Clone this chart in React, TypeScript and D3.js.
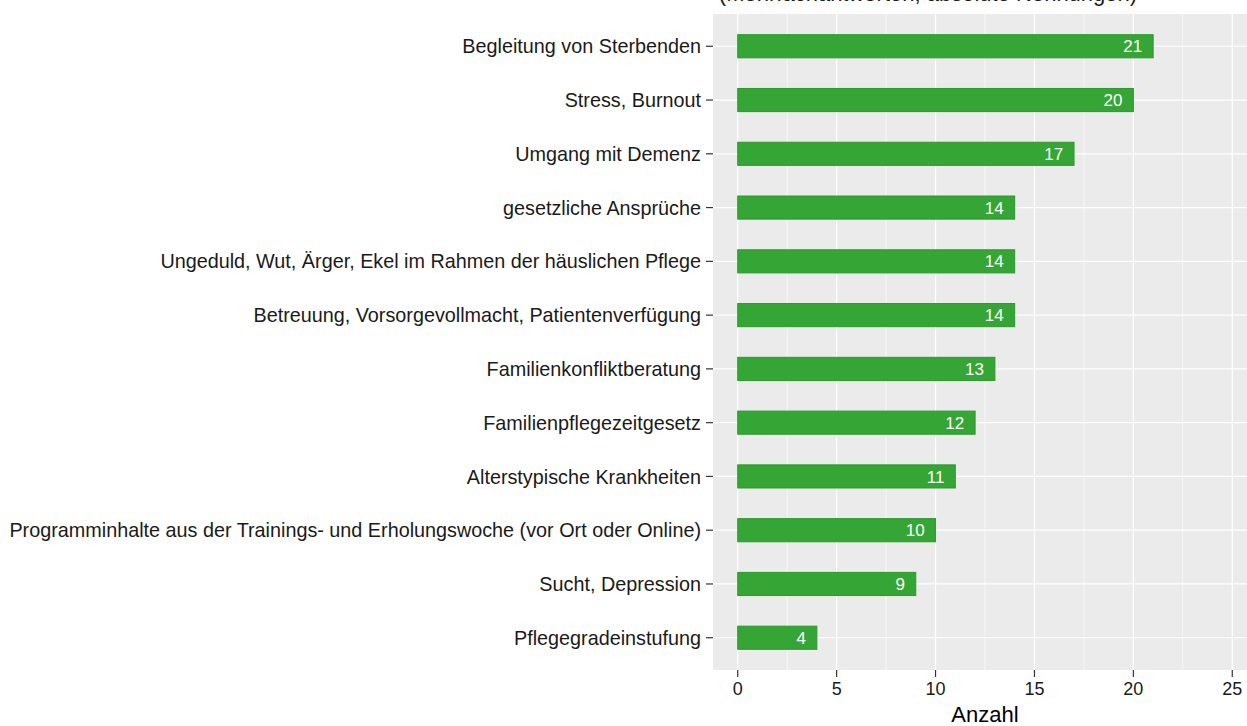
import React, { useEffect, useRef } from "react"
import * as d3 from "d3"

// Themen und Anzahl der Nennungen (von oben nach unten)
const categories = [
  "Begleitung von Sterbenden",
  "Stress, Burnout",
  "Umgang mit Demenz",
  "gesetzliche Ansprüche",
  "Ungeduld, Wut, Ärger, Ekel im Rahmen der häuslichen Pflege",
  "Betreuung, Vorsorgevollmacht, Patientenverfügung",
  "Familienkonfliktberatung",
  "Familienpflegezeitgesetz",
  "Alterstypische Krankheiten",
  "Programminhalte aus der Trainings- und Erholungswoche (vor Ort oder Online)",
  "Sucht, Depression",
  "Pflegegradeinstufung",
]
const counts = [21, 20, 17, 14, 14, 14, 13, 12, 11, 10, 9, 4]
const xTicks = [0, 5, 10, 15, 20, 25]
const title = "(Mehrfachantworten, absolute Nennungen)"

const W = 1247
const H = 726
const FONT = "'Liberation Sans', Arial, sans-serif"

const App: React.FC = () => {
  const svgRef = useRef<SVGSVGElement>(null)

  useEffect(() => {
    if (!svgRef.current) return
    const svg = d3.select(svgRef.current)
    svg.selectAll("*").remove()

    const panel = { left: 713, right: 1257, top: 14, bottom: 670 }

    const x = d3.scaleLinear().domain([-1.25, 26.25]).range([panel.left, panel.right])
    const y = d3.scalePoint<string>().domain(categories).range([panel.top, panel.bottom]).padding(0.6)
    const barH = y.step() * 0.43

    // Titel (oben abgeschnitten)
    svg
      .append("text")
      .attr("x", 928)
      .attr("y", 1)
      .attr("text-anchor", "middle")
      .attr("font-family", FONT)
      .attr("font-size", 22)
      .attr("fill", "#1a1a1a")
      .text(title)

    svg
      .append("rect")
      .attr("x", panel.left)
      .attr("y", panel.top)
      .attr("width", panel.right - panel.left)
      .attr("height", panel.bottom - panel.top)
      .attr("fill", "#ebebeb")

    const g = svg.append("g")

    // minor grid
    const minor = d3.range(2.5, 26, 5)
    g.selectAll("line.minor")
      .data(minor)
      .join("line")
      .attr("x1", (d) => x(d))
      .attr("x2", (d) => x(d))
      .attr("y1", panel.top)
      .attr("y2", panel.bottom)
      .attr("stroke", "#ffffff")
      .attr("stroke-width", 0.6)

    // major grid
    g.selectAll("line.major")
      .data(xTicks)
      .join("line")
      .attr("x1", (d) => x(d))
      .attr("x2", (d) => x(d))
      .attr("y1", panel.top)
      .attr("y2", panel.bottom)
      .attr("stroke", "#ffffff")
      .attr("stroke-width", 1.2)

    g.selectAll("line.hgrid")
      .data(categories)
      .join("line")
      .attr("x1", panel.left)
      .attr("x2", panel.right)
      .attr("y1", (d) => y(d) as number)
      .attr("y2", (d) => y(d) as number)
      .attr("stroke", "#ffffff")
      .attr("stroke-width", 1.2)

    // Balken
    g.selectAll("rect.bar")
      .data(categories)
      .join("rect")
      .attr("x", x(0))
      .attr("y", (d) => (y(d) as number) - barH / 2)
      .attr("width", (_, i) => x(counts[i]) - x(0))
      .attr("height", barH)
      .attr("fill", "#35a635")
      .attr("stroke", "#2a9a2a")
      .attr("stroke-width", 1)

    // Werte
    g.selectAll("text.val")
      .data(categories)
      .join("text")
      .attr("x", (_, i) => x(counts[i] - 0.55))
      .attr("y", (d) => y(d) as number)
      .attr("dy", "0.36em")
      .attr("text-anchor", "end")
      .attr("font-family", FONT)
      .attr("font-size", 17)
      .attr("fill", "#ffffff")
      .text((_, i) => String(counts[i]))

    // y-Achse
    const yAxis = svg.append("g")
    yAxis
      .selectAll("line")
      .data(categories)
      .join("line")
      .attr("x1", panel.left - 7)
      .attr("x2", panel.left)
      .attr("y1", (d) => y(d) as number)
      .attr("y2", (d) => y(d) as number)
      .attr("stroke", "#333333")
      .attr("stroke-width", 1.2)
    yAxis
      .selectAll("text")
      .data(categories)
      .join("text")
      .attr("x", panel.left - 12)
      .attr("y", (d) => y(d) as number)
      .attr("dy", "0.36em")
      .attr("text-anchor", "end")
      .attr("font-family", FONT)
      .attr("font-size", 19.8)
      .attr("fill", "#1a1a1a")
      .text((d) => d)

    // x-Achse
    const xAxis = svg.append("g")
    xAxis
      .selectAll("line")
      .data(xTicks)
      .join("line")
      .attr("x1", (d) => x(d))
      .attr("x2", (d) => x(d))
      .attr("y1", panel.bottom)
      .attr("y2", panel.bottom + 7)
      .attr("stroke", "#333333")
      .attr("stroke-width", 1.2)
    xAxis
      .selectAll("text")
      .data(xTicks)
      .join("text")
      .attr("x", (d) => x(d))
      .attr("y", 689)
      .attr("dy", "0.36em")
      .attr("text-anchor", "middle")
      .attr("font-family", FONT)
      .attr("font-size", 18)
      .attr("fill", "#1a1a1a")
      .text((d) => String(d))

    svg
      .append("text")
      .attr("x", (panel.left + panel.right) / 2)
      .attr("y", 714)
      .attr("dy", "0.36em")
      .attr("text-anchor", "middle")
      .attr("font-family", FONT)
      .attr("font-size", 22)
      .attr("fill", "#000000")
      .text("Anzahl")
  }, [])

  return (
    <div style={{ position: "fixed", left: 0, top: 0, width: W, height: H, background: "#fff" }}>
      <svg ref={svgRef} width={W} height={H} style={{ display: "block" }}></svg>
    </div>
  )
}

export default App
